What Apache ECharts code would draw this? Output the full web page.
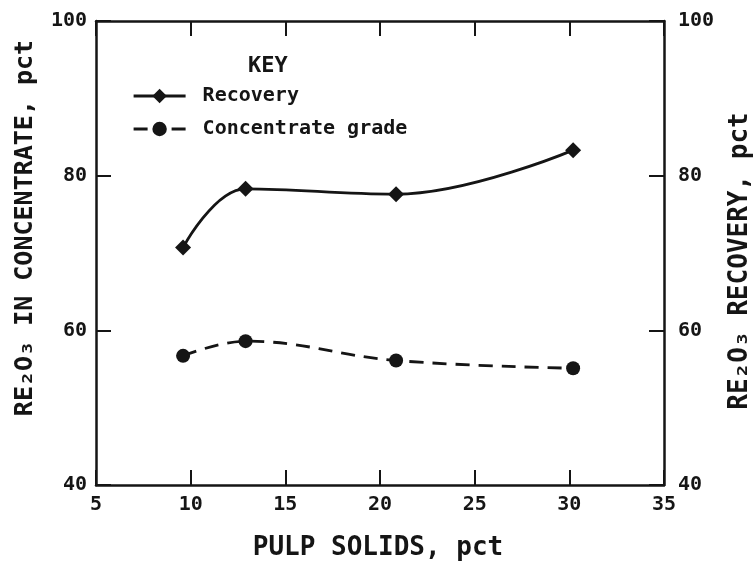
<!DOCTYPE html>
<html><head><meta charset="utf-8">
<script src="https://cdn.jsdelivr.net/npm/echarts@6/dist/echarts.min.js"></script>
<style>html,body{margin:0;padding:0;background:#fff}#c{width:755px;height:564px}</style>
</head><body><div id="c"></div>
<script>
const pulpSolids = [9.6, 12.9, 20.85, 30.2];
const recovery = [70.7, 78.3, 77.6, 83.3];
const grade = [56.7, 58.6, 56.1, 55.1];
const xTicks = [5, 10, 15, 20, 25, 30, 35];
const yTicks = [40, 60, 80, 100];
const seriesNames = ['Recovery', 'Concentrate grade'];
const keyTitle = 'KEY';
const xTitle = 'PULP SOLIDS, pct';
const yLeftTitle = 'RE\u2082O\u2083 IN CONCENTRATE, pct';
const yRightTitle = 'RE\u2082O\u2083 RECOVERY, pct';

const FONT = '"DejaVu Sans Mono", monospace';
const INK = '#151515';
const chart = echarts.init(document.getElementById('c'));
const axisLine = {show: true, lineStyle: {color: INK, width: 2.5}};
const tick = {show: true, inside: true, length: 15, lineStyle: {color: INK, width: 2}};
const lbl = {color: INK, fontFamily: FONT, fontSize: 20, fontWeight: 'bold'};
const xCommon = {type: 'value', min: xTicks[0], max: xTicks[xTicks.length-1], interval: 5, splitLine: {show: false}, axisLine: axisLine, axisTick: tick};
const yCommon = {type: 'value', min: yTicks[0], max: yTicks[yTicks.length-1], interval: 20, splitLine: {show: false}, axisLine: axisLine, axisTick: tick};
chart.setOption({
  backgroundColor: '#fff',
  animation: false,
  grid: {left: 96, right: 91, top: 21, bottom: 79, containLabel: false},
  xAxis: [
    Object.assign({}, xCommon, {position: 'bottom', axisLabel: Object.assign({margin: 10}, lbl)}),
    Object.assign({}, xCommon, {position: 'top', axisLabel: {show: false}})
  ],
  yAxis: [
    Object.assign({}, yCommon, {position: 'left', axisLabel: Object.assign({margin: 9}, lbl)}),
    Object.assign({}, yCommon, {position: 'right', axisLabel: Object.assign({margin: 14}, lbl)})
  ],
  legend: {
    orient: 'vertical', left: 127, top: 81, itemWidth: 52, itemHeight: 18, itemGap: 13,
    textStyle: {color: INK, fontFamily: FONT, fontSize: 20, fontWeight: 'bold', padding: [0, 0, 0, 12]},
    data: [
      {name: seriesNames[0], lineStyle: {width: 3.2}},
      {name: seriesNames[1], lineStyle: {type: [14, 24], width: 3.2}}
    ]
  },
  graphic: [
    {type: 'text', left: 248, top: 55, style: {text: keyTitle, fill: INK, font: 'bold 22px ' + FONT}},
    {type: 'text', x: 378, y: 548, style: {text: xTitle, fill: INK, font: 'bold 26px ' + FONT, align: 'center', verticalAlign: 'middle'}},
    {type: 'text', x: 25, y: 228, rotation: Math.PI / 2, style: {text: yLeftTitle, fill: INK, font: 'bold 25px ' + FONT, align: 'center', verticalAlign: 'middle'}},
    {type: 'text', x: 740, y: 261, rotation: Math.PI / 2, style: {text: yRightTitle, fill: INK, font: 'bold 26px ' + FONT, align: 'center', verticalAlign: 'middle'}}
  ],
  series: [
    {name: seriesNames[0], type: 'line', xAxisIndex: 0, yAxisIndex: 1, smooth: 0.4,
     data: pulpSolids.map((x, i) => [x, recovery[i]]),
     symbol: 'diamond', symbolSize: 16, itemStyle: {color: INK}, lineStyle: {color: INK, width: 2.8}},
    {name: seriesNames[1], type: 'line', xAxisIndex: 0, yAxisIndex: 0, smooth: 0.4,
     data: pulpSolids.map((x, i) => [x, grade[i]]),
     symbol: 'circle', symbolSize: 14, itemStyle: {color: INK}, lineStyle: {color: INK, width: 2.8, type: [14, 9]}}
  ]
});
</script></body></html>
